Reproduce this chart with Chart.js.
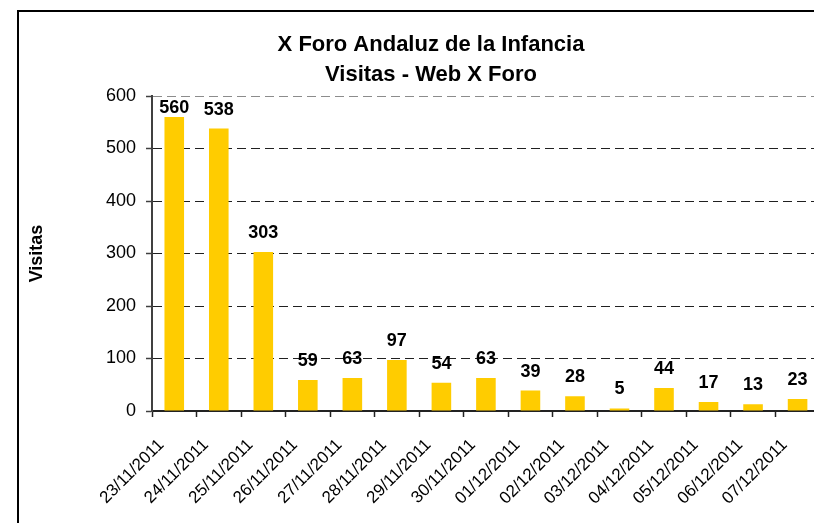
<!DOCTYPE html>
<html>
<head>
<meta charset="utf-8">
<script src="https://cdn.jsdelivr.net/npm/chart.js@4/dist/chart.umd.min.js"></script>
<style>
html,body{margin:0;padding:0;background:#fff;overflow:hidden}
#wrap{position:relative;width:814px;height:523px;overflow:hidden}
</style>
</head>
<body>
<div id="wrap"><canvas id="c" width="830" height="523"></canvas></div>
<script>
const chartTitle = ['X Foro Andaluz de la Infancia', 'Visitas - Web X Foro'];
const yAxisTitle = 'Visitas';
const fechas = ['23/11/2011','24/11/2011','25/11/2011','26/11/2011','27/11/2011','28/11/2011','29/11/2011','30/11/2011','01/12/2011','02/12/2011','03/12/2011','04/12/2011','05/12/2011','06/12/2011','07/12/2011'];
const visitas = [560, 538, 303, 59, 63, 97, 54, 63, 39, 28, 5, 44, 17, 13, 23];
const yMin = 0, yMax = 600, yStep = 100;

const FONT = "'Liberation Sans', Arial, Helvetica, sans-serif";

const framePlugin = {
  id: 'frame',
  beforeDraw(chart) {
    const ctx = chart.ctx;
    ctx.save();
    ctx.strokeStyle = '#000';
    ctx.lineWidth = 2;
    ctx.strokeRect(18, 11, 1000, 1000);
    ctx.restore();
  }
};

const titleShift = {
  id: 'titleShift',
  afterLayout(chart) {
    const t = chart.titleBlock;
    if (t) { t.left = 0; t.right = 862; }
  }
};

const valueLabels = {
  id: 'valueLabels',
  afterDatasetsDraw(chart) {
    const ctx = chart.ctx;
    const meta = chart.getDatasetMeta(0);
    const data = chart.data.datasets[0].data;
    ctx.save();
    ctx.font = 'bold 18px ' + FONT;
    ctx.fillStyle = '#000';
    ctx.textAlign = 'center';
    ctx.textBaseline = 'alphabetic';
    meta.data.forEach((bar, i) => {
      const y = Math.max(bar.y - 14, chart.chartArea.top + 17);
      ctx.fillText(String(data[i]), bar.x, y);
    });
    ctx.restore();
  }
};

new Chart(document.getElementById('c'), {
  type: 'bar',
  data: {
    labels: fechas,
    datasets: [{
      data: visitas,
      backgroundColor: '#FFCC00',
      borderWidth: 0,
      barPercentage: 0.44,
      categoryPercentage: 1
    }]
  },
  options: {
    responsive: false,
    animation: false,
    layout: { padding: 0 },
    plugins: {
      legend: { display: false },
      tooltip: { enabled: false },
      title: {
        display: true,
        text: chartTitle,
        color: '#000',
        font: { family: FONT, size: 22, weight: 'bold', lineHeight: 30 / 22 },
        padding: { top: 30, bottom: 6 }
      }
    },
    scales: {
      x: {
        afterFit: (s) => { s.height = 112; },
        grid: {
          display: true,
          drawOnChartArea: false,
          drawTicks: true,
          tickLength: 6,
          tickColor: '#222',
          tickWidth: 1.5
        },
        border: { display: true, color: '#222', width: 2 },
        ticks: {
          color: '#000',
          font: { family: FONT, size: 17 },
          minRotation: 45,
          maxRotation: 45,
          autoSkip: false,
          padding: 18,
          labelOffset: -13
        }
      },
      y: {
        min: yMin,
        max: yMax,
        afterFit: (s) => { s.width = 152; },
        ticks: {
          stepSize: yStep,
          color: '#000',
          font: { family: FONT, size: 18 },
          padding: 10
        },
        grid: {
          color: (c) => (c.tick && c.tick.value === yMin) ? 'rgba(0,0,0,0)' : (c.tick && c.tick.value === yMax ? '#8c8c8c' : '#202020'),
          lineWidth: 1,
          drawTicks: true,
          tickLength: 6,
          tickColor: '#404040',
          tickWidth: 1.5,
          tickBorderDash: []
        },
        border: { display: true, color: '#404040', width: 2, dash: [9, 5] },
        title: {
          display: true,
          text: yAxisTitle,
          color: '#000',
          font: { family: FONT, size: 18, weight: 'bold' },
          padding: { top: 26, bottom: 0 }
        }
      }
    }
  },
  plugins: [framePlugin, titleShift, valueLabels]
});
</script>
</body>
</html>
